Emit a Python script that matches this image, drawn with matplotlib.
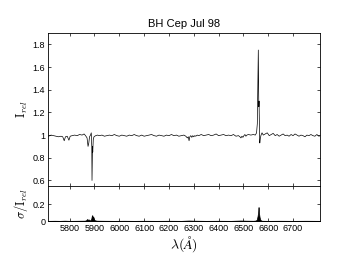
import numpy as np
import matplotlib.pyplot as plt

plt.rcParams['font.family'] = ['Liberation Sans', 'DejaVu Sans']
plt.rcParams['mathtext.fontset'] = 'cm'

# relative intensity spectrum
wave = [5715, 5725, 5735, 5745, 5755, 5765, 5772, 5778, 5783, 5790, 5797, 5802,
        5810, 5820, 5830, 5840, 5850, 5858, 5864, 5870, 5874, 5877, 5880, 5884,
        5887, 5889, 5890, 5891, 5892, 5893, 5894, 5895, 5896, 5898, 5901, 5905,
        5912, 5920, 5930, 5940, 5950, 5960, 5970, 5980, 5990, 6000, 6010, 6020,
        6030, 6040, 6050, 6060, 6070, 6080, 6090, 6100, 6110, 6120, 6130, 6140,
        6150, 6160, 6170, 6180, 6190, 6200, 6210, 6220, 6230, 6240, 6250, 6260,
        6268, 6274, 6278, 6281, 6284, 6288, 6292, 6296, 6300, 6304, 6308, 6314,
        6320, 6330, 6340, 6350, 6360, 6370, 6380, 6390, 6400, 6410, 6420, 6430,
        6440, 6450, 6460, 6470, 6480, 6486, 6490, 6494, 6498, 6502, 6506, 6510,
        6514, 6520, 6530, 6540, 6548, 6553, 6556, 6558, 6560, 6561, 6562, 6563,
        6564, 6565, 6566, 6568, 6571, 6575, 6580, 6588, 6596, 6604, 6612, 6620,
        6628, 6636, 6644, 6652, 6660, 6668, 6676, 6684, 6692, 6700, 6708, 6716,
        6724, 6732, 6740, 6748, 6756, 6764, 6772, 6780, 6788, 6796, 6804, 6810]
flux = [0.990, 1.000, 0.995, 0.990, 0.985, 0.990, 0.985, 0.950, 0.985, 0.990, 0.955, 0.990,
        0.995, 1.000, 0.995, 1.005, 1.000, 1.010, 0.995, 0.975, 0.900, 0.930, 0.985, 1.000,
        1.020, 0.900, 0.600, 0.760, 0.900, 0.850, 0.920, 0.960, 0.970, 0.985, 0.990, 0.995,
        1.000, 0.995, 1.000, 0.990, 0.995, 1.000, 0.995, 1.005, 0.995, 0.990, 1.000, 0.995,
        0.990, 1.000, 0.995, 1.005, 0.995, 0.990, 1.000, 0.990, 0.995, 1.000, 1.005, 0.995,
        0.990, 1.000, 0.995, 0.990, 1.000, 0.995, 1.005, 0.995, 1.000, 0.990, 0.995, 1.000,
        0.990, 0.975, 0.985, 0.950, 0.985, 0.995, 0.980, 0.995, 0.985, 0.995, 0.990, 1.000,
        0.995, 1.005, 0.995, 1.000, 1.005, 0.995, 1.000, 1.010, 0.995, 1.000, 1.005, 0.995,
        1.000, 0.995, 1.005, 0.990, 0.995, 0.985, 0.975, 0.990, 0.980, 0.995, 1.005, 0.990,
        1.000, 1.005, 1.000, 1.005, 1.000, 1.020, 1.100, 1.400, 1.750, 1.500, 1.250, 1.300,
        1.150, 1.000, 0.930, 0.970, 1.000, 1.020, 1.000, 1.010, 1.020, 0.995, 1.005, 1.015,
        0.995, 1.005, 0.990, 1.000, 1.010, 0.995, 1.000, 0.990, 1.005, 0.995, 1.010, 1.000,
        0.990, 1.000, 0.995, 0.985, 1.000, 0.995, 1.005, 0.995, 0.990, 1.005, 0.990, 0.995]

# relative error
wave_s = [5715, 5740, 5760, 5780, 5800, 5830, 5860, 5866, 5870, 5873, 5876, 5880,
          5884, 5887, 5889, 5891, 5893, 5895, 5898, 5902, 5910, 5940, 5980, 6020,
          6060, 6100, 6150, 6200, 6250, 6280, 6300, 6350, 6400, 6450, 6490, 6510,
          6540, 6550, 6554, 6557, 6559, 6561, 6562, 6563, 6565, 6567, 6570, 6575,
          6600, 6650, 6700, 6750, 6810]
sigma = [0.004, 0.005, 0.004, 0.006, 0.004, 0.005, 0.006, 0.010, 0.025, 0.015, 0.022, 0.010,
         0.012, 0.030, 0.060, 0.070, 0.040, 0.055, 0.020, 0.010, 0.006, 0.005, 0.004, 0.005,
         0.004, 0.005, 0.004, 0.005, 0.004, 0.008, 0.006, 0.004, 0.005, 0.004, 0.008, 0.006,
         0.005, 0.008, 0.020, 0.060, 0.100, 0.165, 0.130, 0.090, 0.050, 0.025, 0.010, 0.005,
         0.004, 0.005, 0.004, 0.005, 0.004]

xticks = [5800, 5900, 6000, 6100, 6200, 6300, 6400, 6500, 6600, 6700]

fig = plt.figure(figsize=(3.41, 2.56), dpi=100)
ax1 = fig.add_axes([0.141, 0.273, 0.797, 0.598])
ax2 = fig.add_axes([0.141, 0.135, 0.797, 0.138])

ax1.plot(wave, flux, color='black', lw=0.5)
ax1.set_xlim(5713, 6808)
ax1.set_ylim(0.55, 1.9)
ax1.set_yticks([0.6, 0.8, 1, 1.2, 1.4, 1.6, 1.8])
ax1.set_yticklabels(['0.6', '0.8', '1', '1.2', '1.4', '1.6', '1.8'])
ax1.set_xticks(xticks)
ax1.set_xticklabels([])
ax1.set_ylabel(r'$\mathrm{I}_{rel}$', fontsize=9, labelpad=2)
ax1.set_title('BH Cep Jul 98', fontsize=8, pad=4)

ax2.fill_between(wave_s, 0, sigma, color='black', lw=0.5)
ax2.set_xlim(5713, 6808)
ax2.set_ylim(-0.003, 0.41)
ax2.set_yticks([0, 0.2])
ax2.set_yticklabels(['0', '0.2'])
ax2.set_xticks(xticks)
ax2.set_xlabel(r'$\lambda(\AA)$', fontsize=10, labelpad=1)
ax2.set_ylabel(r'$\sigma/\mathrm{I}_{rel}$', fontsize=9, labelpad=2)

for ax in (ax1, ax2):
    ax.tick_params(direction='in', top=True, right=True, length=2.5,
                   width=0.5, labelsize=6.5, pad=2)
    for s in ax.spines.values():
        s.set_linewidth(0.6)

fig.savefig('out.png', dpi=100)
